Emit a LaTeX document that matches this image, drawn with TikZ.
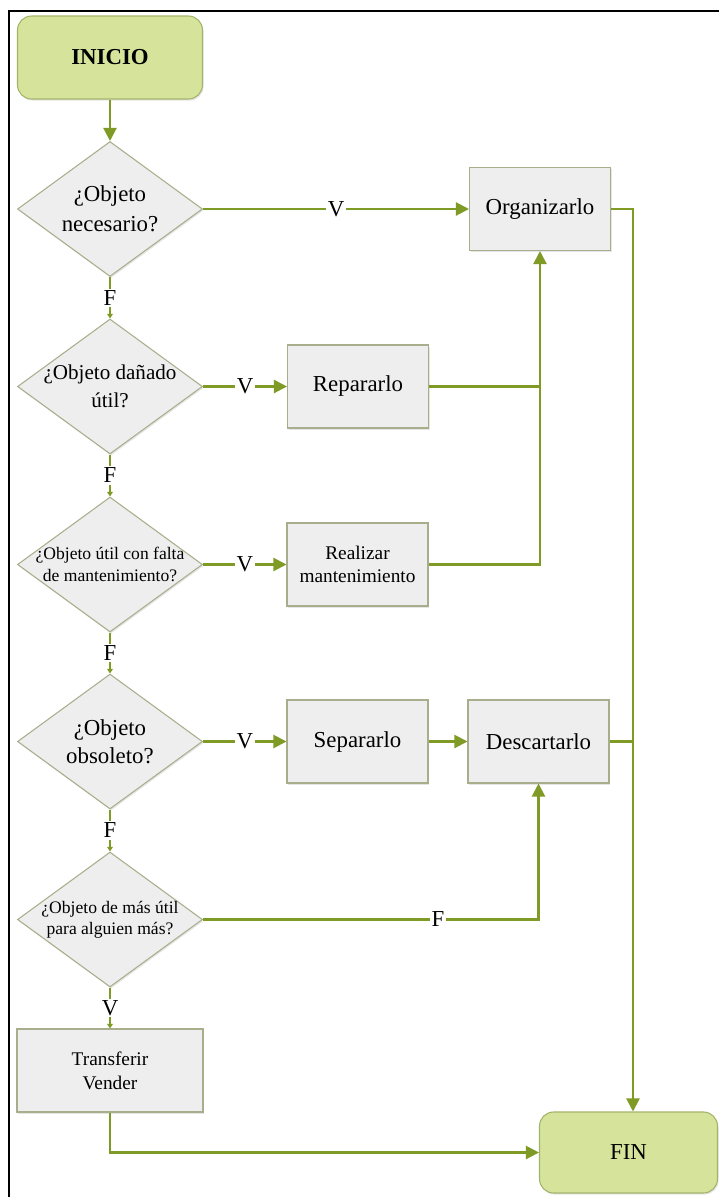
\documentclass[tikz,border=0pt]{standalone}
\usepackage{fontspec}
\setmainfont{Liberation Serif}
\usetikzlibrary{shapes.geometric, arrows.meta, shadows}
\definecolor{flowgreen}{HTML}{7F9B26}
\definecolor{boxfill}{HTML}{EEEEEE}
\definecolor{boxline}{HTML}{A8AE8B}
\definecolor{termfill}{HTML}{D6E39B}
\definecolor{termline}{HTML}{A2B46B}

\begin{document}
\begin{tikzpicture}[x=0.02cm, y=-0.02cm,
    terminal/.style={draw=termline, fill=termfill, line width=0.6pt, rounded corners=0.28cm,
        minimum width=3.7cm, minimum height=1.66cm,
        drop shadow={shadow xshift=0.6pt, shadow yshift=-0.9pt, opacity=0.2}},
    process/.style={draw=boxline, fill=boxfill, line width=0.6pt, align=center,
        minimum width=2.82cm, minimum height=1.66cm,
        drop shadow={shadow xshift=0.6pt, shadow yshift=-0.9pt, opacity=0.2}},
    decision/.style={diamond, draw=boxline, fill=boxfill, line width=0.6pt, inner sep=0pt,
        minimum width=3.7cm, minimum height=2.7cm,
        drop shadow={shadow xshift=0.6pt, shadow yshift=-0.9pt, opacity=0.2}},
    dtext/.style={align=center, inner sep=0pt},
    plain/.style={draw=flowgreen, line width=1.2pt},
    flow/.style={plain, -{Triangle[length=7.5pt,width=7.5pt]}},
    shortflow/.style={plain, -{Triangle[length=2.6pt,width=3.2pt]}},
    answer/.style={fill=white, inner sep=1pt, font=\fontsize{13}{15}\selectfont}
]
    \useasboundingbox (0,0) rectangle (719,1197);
    \fill[white] (0,0) rectangle (719,1197);
    \clip (0,0) rectangle (719,1197);
    \draw[line width=1.4pt] (9,1240) -- (9,11) -- (760,11);

    \node[terminal, font=\bfseries\fontsize{13}{16}\selectfont] at (110,57.5) (inicio) {INICIO};

    \node[decision, label={[dtext, font=\fontsize{13}{17}\selectfont]center:¿Objeto\\necesario?}] at (110,209) (necesario) {};
    \node[process, font=\fontsize{13}{16}\selectfont] at (540,209) (organizar) {Organizarlo};

    \node[decision, label={[dtext, font=\fontsize{12}{16}\selectfont]center:¿Objeto dañado\\útil?}] at (110,386.5) (danado) {};
    \node[process, font=\fontsize{13}{16}\selectfont] at (358,386.5) (reparar) {Repararlo};

    \node[decision, label={[dtext, font=\fontsize{10}{12.5}\selectfont]center:¿Objeto útil con falta\\de mantenimiento?}] at (110,564.5) (falta) {};
    \node[process, font=\fontsize{11}{13.5}\selectfont] at (357.5,564.5) (mantener) {Realizar\\mantenimiento};

    \node[decision, label={[dtext, font=\fontsize{13}{16}\selectfont]center:¿Objeto\\obsoleto?}] at (110,741.5) (obsoleto) {};
    \node[process, font=\fontsize{13}{16}\selectfont] at (357.5,741.5) (separar) {Separarlo};
    \node[process, font=\fontsize{13}{16}\selectfont] at (538.5,741.5) (descartar) {Descartarlo};

    \node[decision, label={[dtext, font=\fontsize{10}{12}\selectfont]center:¿Objeto de más útil\\para alguien más?}] at (110,919.5) (ajeno) {};
    \node[process, minimum width=3.72cm, font=\fontsize{11}{13.5}\selectfont] at (110,1070.5) (transferir) {Transferir\\Vender};

    \node[terminal, minimum width=3.56cm, minimum height=1.62cm, font=\fontsize{13}{16}\selectfont] at (628.5,1152.5) (fin) {FIN};
    \coordinate (derecha) at (633,209);

    \draw[flow] (inicio) -- (necesario);
    \draw[flow] (necesario.east) -- node[answer] {V} (organizar.west);
    \draw[shortflow] (necesario.south) -- node[answer] {F} (danado.north);
    \draw[flow] (danado.east) -- node[answer] {V} (reparar.west);
    \draw[plain] (reparar.east) -- (reparar.east -| organizar.south);
    \draw[shortflow] (danado.south) -- node[answer] {F} (falta.north);
    \draw[flow] (falta.east) -- node[answer] {V} (mantener.west);
    \draw[flow] (mantener.east) -| (organizar.south);
    \draw[shortflow] (falta.south) -- node[answer] {F} (obsoleto.north);
    \draw[flow] (obsoleto.east) -- node[answer] {V} (separar.west);
    \draw[flow] (separar) -- (descartar);
    \draw[plain] (descartar.east) -- (descartar.east -| derecha);
    \draw[flow] (organizar.east) -- (derecha) -- (derecha |- fin.north);
    \draw[shortflow] (obsoleto.south) -- node[answer] {F} (ajeno.north);
    \draw[flow] (ajeno.east) -| node[answer, pos=0.35] {F} (descartar.south);
    \draw[shortflow] (ajeno.south) -- node[answer] {V} (transferir.north);
    \draw[flow] (transferir.south) |- (fin.west);
\end{tikzpicture}
\end{document}
